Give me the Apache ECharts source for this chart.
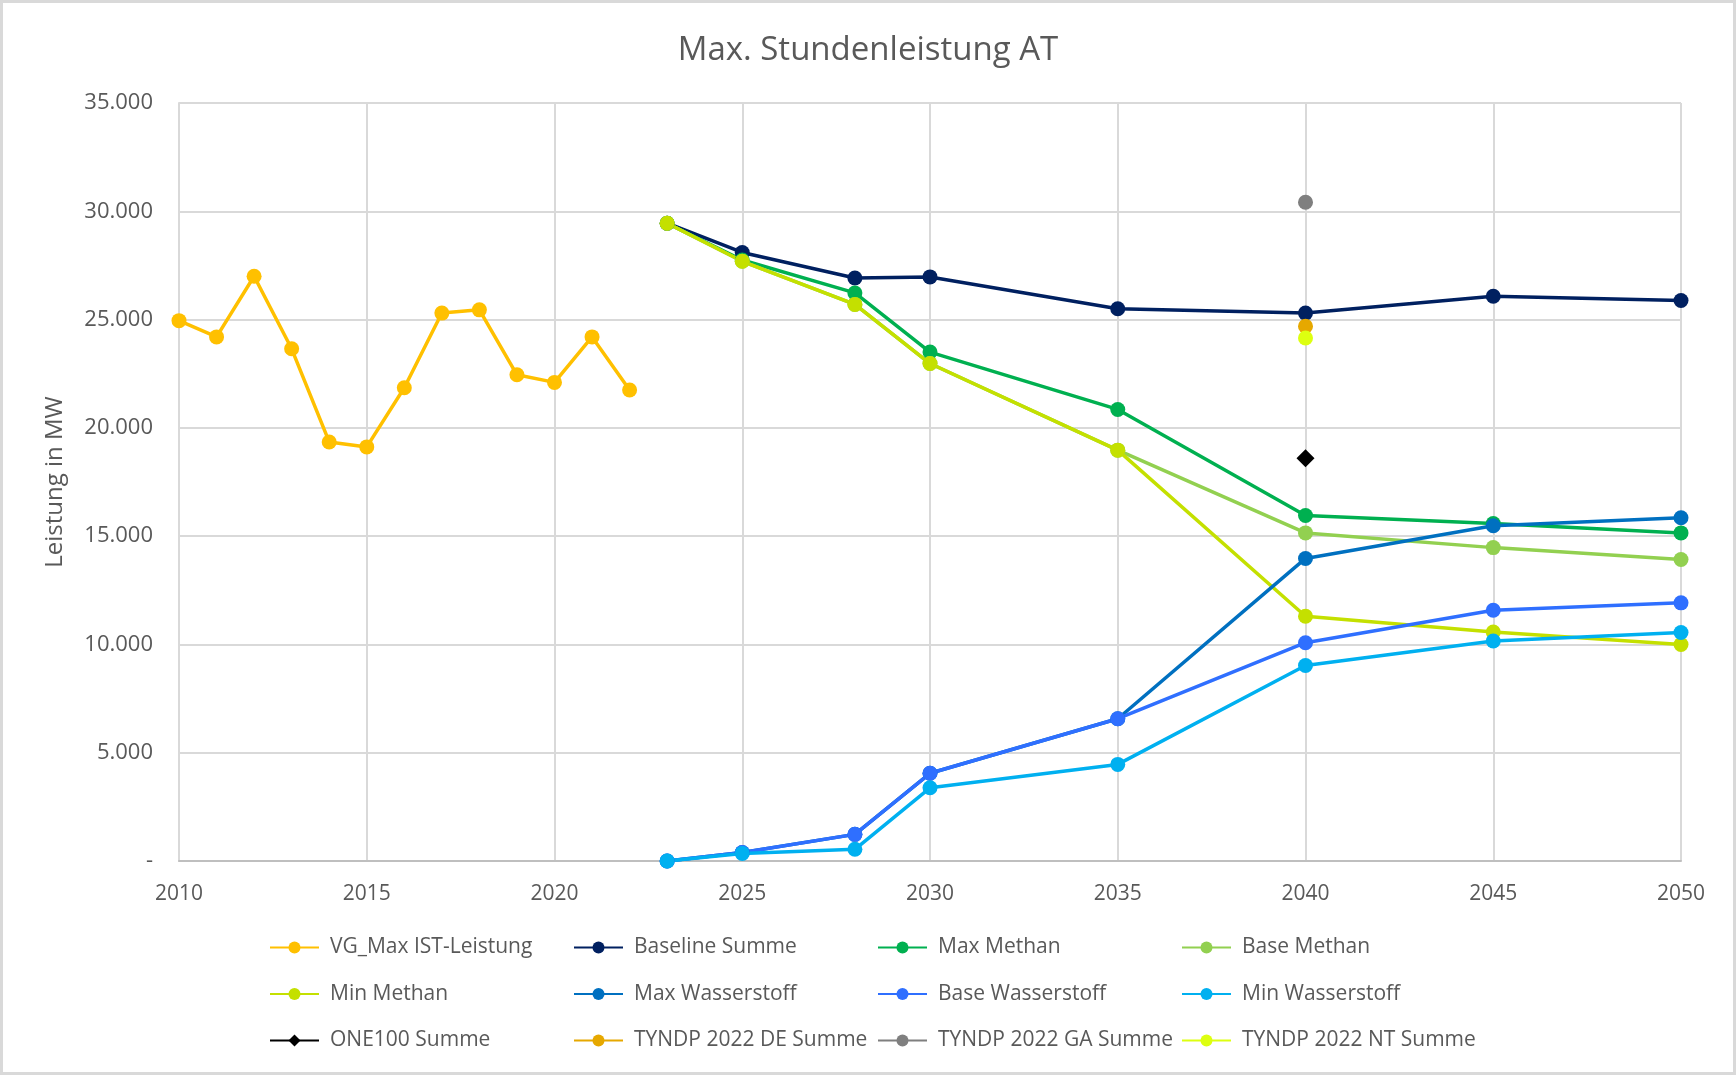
<!DOCTYPE html>
<html>
<head>
<meta charset="utf-8">
<title>Max. Stundenleistung AT</title>
<script src="https://cdn.jsdelivr.net/npm/echarts@6/dist/echarts.min.js"></script>
<style>
  html, body { margin: 0; padding: 0; background: #ffffff; }
  #chart { width: 1736px; height: 1075px; }
</style>
</head>
<body>
<div id="chart"></div>
<script>
// Historical years and scenario years
const histYears = [2010, 2011, 2012, 2013, 2014, 2015, 2016, 2017, 2018, 2019, 2020, 2021, 2022];
const scenYears = [2023, 2025, 2028, 2030, 2035, 2040, 2045, 2050];
const refYear = 2040;

// Maximum hourly capacity in MW
const vgMaxIst       = [24950, 24200, 27000, 23650, 19350, 19120, 21850, 25300, 25450, 22450, 22100, 24200, 21750];
const baselineSumme  = [29450, 28100, 26920, 26970, 25500, 25300, 26080, 25880];
const maxMethan      = [29450, 27750, 26230, 23500, 20850, 15950, 15580, 15150];
const baseMethan     = [29450, 27690, 25700, 22970, 18970, 15150, 14470, 13920];
const minMethan      = [29450, 27690, 25700, 22970, 18970, 11300, 10570, 10000];
const maxWasserstoff = [0, 390, 1230, 4050, 6570, 13970, 15480, 15850];
const baseWasserstoff= [0, 390, 1230, 4050, 6570, 10080, 11580, 11920];
const minWasserstoff = [0, 350, 540, 3380, 4460, 9030, 10160, 10550];
const one100Summe    = 18600;
const tyndpDE        = 24690;
const tyndpGA        = 30420;
const tyndpNT        = 24150;

// Axis settings
const yMin = 0, yMax = 35000, yStep = 5000;
const xMin = 2010, xMax = 2050, xStep = 5;

const zip = (xs, ys) => xs.map((x, i) => [x, ys[i]]);

const FONT = '"Open Sans", "Noto Sans", sans-serif';
const TEXT = '#595959';

function lineSeries(name, data, color, symbol) {
  return {
    name: name,
    type: 'line',
    data: data,
    symbol: symbol || 'circle',
    symbolSize: symbol === 'diamond' ? 18 : 15,
    showAllSymbol: true,
    itemStyle: { color: color },
    lineStyle: { color: color, width: 3.5 },
    emphasis: { disabled: true },
    animation: false
  };
}

const series = [
  lineSeries('VG_Max IST-Leistung', zip(histYears, vgMaxIst), '#FFC000'),
  lineSeries('Baseline Summe', zip(scenYears, baselineSumme), '#002060'),
  lineSeries('Max Methan', zip(scenYears, maxMethan), '#00B050'),
  lineSeries('Base Methan', zip(scenYears, baseMethan), '#92D050'),
  lineSeries('Min Methan', zip(scenYears, minMethan), '#C4E000'),
  lineSeries('Max Wasserstoff', zip(scenYears, maxWasserstoff), '#0070C0'),
  lineSeries('Base Wasserstoff', zip(scenYears, baseWasserstoff), '#2F6FFF'),
  lineSeries('Min Wasserstoff', zip(scenYears, minWasserstoff), '#00B0F0'),
  lineSeries('ONE100 Summe', [[refYear, one100Summe]], '#000000', 'diamond'),
  lineSeries('TYNDP 2022 DE Summe', [[refYear, tyndpDE]], '#E6A800'),
  lineSeries('TYNDP 2022 GA Summe', [[refYear, tyndpGA]], '#7F7F7F'),
  lineSeries('TYNDP 2022 NT Summe', [[refYear, tyndpNT]], '#DDFF10')
];

// Legend laid out as four columns of three rows
const names = series.map(s => s.name);
const colLeft = [269, 573, 877, 1181];
const legends = colLeft.map((left, c) => ({
  orient: 'vertical',
  left: left,
  top: 937,
  padding: 0,
  itemWidth: 49,
  itemHeight: 15,
  itemGap: 25.5,
  selectedMode: false,
  textStyle: { fontFamily: FONT, fontSize: 21, color: TEXT, padding: [0, 0, 0, 6] },
  data: [names[c], names[c + 4], names[c + 8]]
}));

const fmtY = v => v === 0 ? '-' : v.toLocaleString('de-DE');

const option = {
  backgroundColor: '#ffffff',
  animation: false,
  title: {
    text: 'Max. Stundenleistung AT',
    left: 'center',
    top: 29,
    textStyle: { fontFamily: FONT, fontSize: 33, fontWeight: 'normal', color: TEXT }
  },
  legend: legends,
  grid: { left: 179, right: 55, top: 103, bottom: 214, containLabel: false },
  xAxis: {
    type: 'value',
    min: xMin, max: xMax, interval: xStep,
    axisLine: { show: true, lineStyle: { color: '#BFBFBF', width: 2 } },
    axisTick: { show: false },
    splitLine: { show: true, lineStyle: { color: '#D9D9D9', width: 2 } },
    axisLabel: { fontFamily: FONT, fontSize: 21, color: TEXT, margin: 23, formatter: v => String(v) }
  },
  yAxis: {
    type: 'value',
    min: yMin, max: yMax, interval: yStep,
    name: 'Leistung in MW',
    nameLocation: 'middle',
    nameGap: 112,
    nameRotate: 90,
    nameTextStyle: { fontFamily: FONT, fontSize: 24, color: TEXT },
    axisLine: { show: true, lineStyle: { color: '#D9D9D9', width: 2 } },
    axisTick: { show: false },
    splitLine: { show: true, lineStyle: { color: '#D9D9D9', width: 2 } },
    axisLabel: { fontFamily: FONT, fontSize: 22, color: TEXT, margin: 26, formatter: fmtY }
  },
  graphic: [{
    type: 'rect',
    shape: { x: 1.5, y: 1.5, width: 1733, height: 1072 },
    style: { fill: 'none', stroke: '#D9D9D9', lineWidth: 3 },
    silent: true,
    z: -1
  }],
  series: series
};

const chart = echarts.init(document.getElementById('chart'), null, { renderer: 'canvas' });
chart.setOption(option);
</script>
</body>
</html>
